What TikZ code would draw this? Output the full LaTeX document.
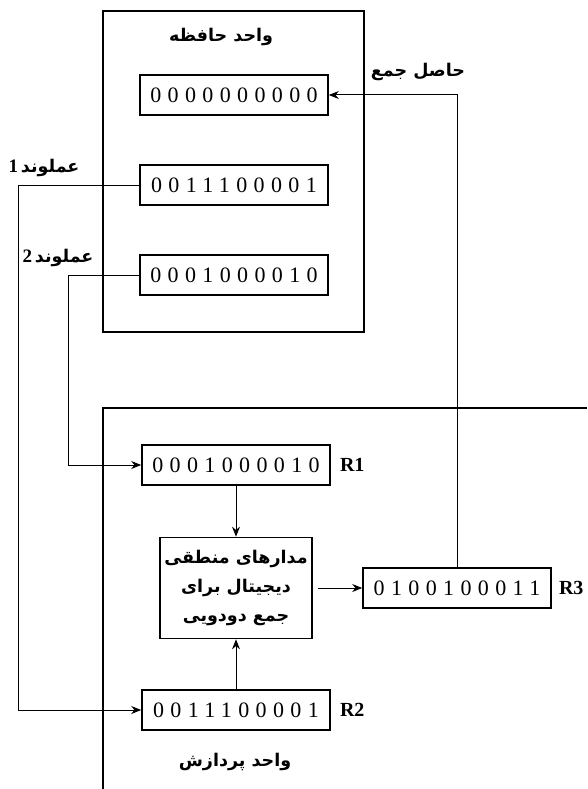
\documentclass[tikz,border=0pt]{standalone}
\usepackage{fontspec}
\setmainfont{Liberation Serif}
\newfontfamily\farsi[Script=Arabic]{DejaVu Sans}
\newfontfamily\bits[LetterSpace=29]{Liberation Serif}
\TeXXeTstate=1
\usetikzlibrary{arrows.meta}

\begin{document}
\begin{tikzpicture}[x=1pt,y=-1pt,
  reg/.style={draw,line width=1.6pt,minimum width=188pt,minimum height=40pt,inner sep=0pt,font=\bits\fontsize{22}{22}\selectfont},
  rname/.style={anchor=west,inner sep=0pt,font=\bfseries\fontsize{20}{20}\selectfont},
  fa/.style={font=\farsi\bfseries\fontsize{17.5}{20}\selectfont},
  wire/.style={line width=1pt},
  arr/.style={wire,-{Stealth[length=10pt,width=8pt]}}]
\useasboundingbox (0,0) rectangle (587,789);

% memory unit
\draw[line width=1.3pt] (103,11) rectangle (364,332);
\node[fa] (memtitle) at (221,37) {\beginR واحد حافظه\endR};
\node[reg] (m0) at (234,95) {0000000000};
\node[reg] (m1) at (234,185) {0011100001};
\node[reg] (m2) at (234,275) {0001000010};
\node[fa] (sumlbl) at (418,72) {\beginR حاصل جمع\endR};
\node[fa] (op1lbl) at (44,168) {{\rmfamily\bfseries\fontsize{19}{19}\selectfont 1}\,\beginR عملوند\endR};
\node[fa] (op2lbl) at (58,258) {{\rmfamily\bfseries\fontsize{19}{19}\selectfont 2}\,\beginR عملوند\endR};

% processing unit
\draw[line width=1.3pt] (587,408) -- (103,408) -- (103,789);
\node[reg] (r1) at (236,465) {0001000010};
\node[reg] (r2) at (236,710) {0011100001};
\node[reg] (r3) at (457,588) {0100100011};
\node[rname] (r1n) at ([xshift=9pt]r1.east) {R1};
\node[rname] (r2n) at ([xshift=9pt]r2.east) {R2};
\node[rname] (r3n) at ([xshift=7pt]r3.east) {R3};
\node[draw,line width=1.6pt,minimum width=152pt,minimum height=101pt,align=center,
  font=\farsi\bfseries\fontsize{17.5}{29}\selectfont] (logic) at (236,588)
  {\beginR مدارهای منطقی\endR\\\beginR دیجیتال برای\endR\\\beginR جمع دودویی\endR};
\node[fa] (proctitle) at (235,762) {\beginR واحد پردازش\endR};

\coordinate (op1) at (18,185);
\coordinate (op2) at (68,275);
\draw[arr] (m1.west) -- (op1) |- (r2.west);
\draw[arr] (m2.west) -- (op2) |- (r1.west);
\draw[arr] (r1.south) -- (logic.north);
\draw[arr] (r2.north) -- (logic.south);
\draw[arr,shorten <=5pt] (logic.east) -- (r3.west);
\draw[arr] (r3.north) |- (m0.east);
\end{tikzpicture}
\end{document}
